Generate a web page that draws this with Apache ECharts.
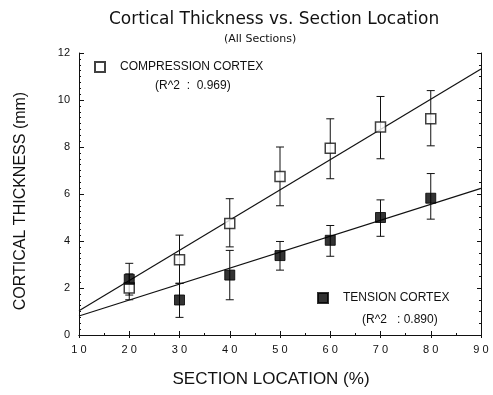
<!DOCTYPE html>
<html>
<head>
<meta charset="utf-8">
<script src="https://cdn.jsdelivr.net/npm/echarts@6/dist/echarts.min.js"></script>
<style>
html,body{margin:0;padding:0;background:#fff;}
#chart{width:493px;height:395px;}
</style>
</head>
<body>
<div id="chart"></div>
<script>
// ---- data ----
const sectionLocations = [20, 30, 40, 50, 60, 70, 80];
const compressionMean = [2.0, 3.2, 4.75, 6.75, 7.95, 8.85, 9.2];
const compressionLow  = [1.5, 2.2, 3.75, 5.5, 6.65, 7.5, 8.05];
const compressionHigh = [2.6, 4.25, 5.8, 8.0, 9.2, 10.15, 10.4];
const tensionMean = [2.37, 1.49, 2.55, 3.38, 4.03, 5.0, 5.82];
const tensionLow  = [1.7, 0.75, 1.5, 2.76, 3.35, 4.2, 4.93];
const tensionHigh = [3.05, 2.2, 3.6, 3.98, 4.66, 5.75, 6.87];
const fitX = [10, 90];
const compressionFitY = [1.03, 11.32];
const tensionFitY = [0.81, 6.24];
const compressionR2 = '(R^2  :  0.969)';
const tensionR2 = '(R^2   : 0.890)';
const seriesNames = ['COMPRESSION CORTEX', 'TENSION CORTEX'];
const titleText = 'Cortical Thickness vs. Section Location';
const subtitleText = '(All Sections)';
const xName = 'SECTION LOCATION (%)';
const yName = 'CORTICAL THICKNESS (mm)';

const FONT = '"Liberation Sans", Arial, sans-serif';
const TFONT = '"DejaVu Sans", sans-serif';
const INK = '#111';

const pts = (xs, ys) => xs.map((x, i) => [x, ys[i]]);
const bars = (xs, lo, hi) => xs.map((x, i) => [x, lo[i], hi[i]]);

function errorBar(params, api) {
  const x = api.value(0), lo = api.value(1), hi = api.value(2);
  const pHi = api.coord([x, hi]);
  const pLo = api.coord([x, lo]);
  const w = 4;
  const st = { stroke: INK, lineWidth: 1 };
  return {
    type: 'group',
    children: [
      { type: 'line', shape: { x1: pHi[0], y1: pHi[1], x2: pLo[0], y2: pLo[1] }, style: st },
      { type: 'line', shape: { x1: pHi[0] - w, y1: pHi[1], x2: pHi[0] + w, y2: pHi[1] }, style: st },
      { type: 'line', shape: { x1: pLo[0] - w, y1: pLo[1], x2: pLo[0] + w, y2: pLo[1] }, style: st }
    ]
  };
}

const chart = echarts.init(document.getElementById('chart'), null, { renderer: 'canvas' });
const option = {
  backgroundColor: '#fff',
  animation: false,
  textStyle: { fontFamily: FONT, color: INK },
  title: [
    { text: titleText, left: 104, top: 6,
      textStyle: { fontFamily: TFONT, fontSize: 17, fontWeight: 'normal', color: INK } },
    { text: subtitleText, left: 219, top: 29,
      textStyle: { fontFamily: TFONT, fontSize: 11, fontWeight: 'normal', color: INK } }
  ],
  grid: { left: 79, right: 12, top: 53, bottom: 60, containLabel: false },
  legend: [
    { data: [seriesNames[0]], left: 94, top: 61, orient: 'vertical',
      itemWidth: 10, itemHeight: 10, padding: 0,
      textStyle: { fontFamily: FONT, fontSize: 12, color: INK, padding: [0, 0, 0, 10] } },
    { data: [seriesNames[1]], left: 317, top: 292, orient: 'vertical',
      itemWidth: 10, itemHeight: 10, padding: 0,
      textStyle: { fontFamily: FONT, fontSize: 12, color: INK, padding: [0, 0, 0, 10] } }
  ],
  graphic: [
    { type: 'text', left: 155, top: 80, silent: true,
      style: { text: compressionR2, font: '12px ' + FONT, fill: INK } },
    { type: 'text', left: 362, top: 314, silent: true,
      style: { text: tensionR2, font: '12px ' + FONT, fill: INK } }
  ],
  xAxis: [
    { type: 'value', min: 10, max: 90, interval: 10, position: 'bottom',
      name: xName, nameLocation: 'middle', nameGap: 36,
      nameTextStyle: { fontFamily: FONT, fontSize: 17, color: INK, padding: [0, 18, 0, 0] },
      axisLine: { show: true, lineStyle: { color: INK, width: 1 } },
      axisTick: { show: true, inside: true, length: 4, lineStyle: { color: INK } },
      minorTick: { show: true, splitNumber: 2, length: 2, lineStyle: { color: INK } },
      axisLabel: { margin: 9, fontFamily: FONT, fontSize: 11, color: INK,
        formatter: v => String(v).split('').join(' ') },
      splitLine: { show: false } },
    { type: 'value', min: 10, max: 90, interval: 10, position: 'top',
      axisLine: { show: true, lineStyle: { color: INK, width: 1 } },
      axisTick: { show: true, inside: true, length: 3, lineStyle: { color: INK } },
      axisLabel: { show: false }, splitLine: { show: false } }
  ],
  yAxis: [
    { type: 'value', min: 0, max: 12, interval: 2, position: 'left',
      name: yName, nameLocation: 'middle', nameGap: 50, nameRotate: 90,
      nameTextStyle: { fontFamily: FONT, fontSize: 16, color: INK, padding: [0, 14, 0, 0] },
      axisLine: { show: true, lineStyle: { color: INK, width: 1 } },
      axisTick: { show: true, inside: true, length: 5, lineStyle: { color: INK } },
      minorTick: { show: true, splitNumber: 8, length: 2, lineStyle: { color: INK } },
      axisLabel: { margin: 9, fontFamily: FONT, fontSize: 11, color: INK },
      splitLine: { show: false } },
    { type: 'value', min: 0, max: 12, interval: 2, position: 'right',
      axisLine: { show: true, lineStyle: { color: INK, width: 1 } },
      axisTick: { show: true, inside: true, length: 4, lineStyle: { color: INK } },
      minorTick: { show: true, splitNumber: 4, length: 2, lineStyle: { color: INK } },
      axisLabel: { show: false }, splitLine: { show: false } }
  ],
  series: [
    { name: 'compression fit', type: 'line', data: pts(fitX, compressionFitY),
      showSymbol: false, symbol: 'none', lineStyle: { color: INK, width: 1.2 }, z: 2, silent: true },
    { name: 'tension fit', type: 'line', data: pts(fitX, tensionFitY),
      showSymbol: false, symbol: 'none', lineStyle: { color: INK, width: 1.2 }, z: 2, silent: true },
    { name: 'compression error', type: 'custom', renderItem: errorBar,
      encode: { x: 0, y: [1, 2] }, data: bars(sectionLocations, compressionLow, compressionHigh), z: 3 },
    { name: 'tension error', type: 'custom', renderItem: errorBar,
      encode: { x: 0, y: [1, 2] }, data: bars(sectionLocations, tensionLow, tensionHigh), z: 3 },
    { name: seriesNames[0], type: 'scatter', symbol: 'rect', symbolSize: 10,
      data: pts(sectionLocations, compressionMean),
      itemStyle: { color: '#fff', borderColor: INK, borderWidth: 1.5 }, z: 5 },
    { name: seriesNames[1], type: 'scatter', symbol: 'rect', symbolSize: 10,
      data: pts(sectionLocations, tensionMean),
      itemStyle: { color: '#000', borderColor: '#000', borderWidth: 1 }, z: 6 }
  ]
};
chart.setOption(option);
</script>
</body>
</html>
